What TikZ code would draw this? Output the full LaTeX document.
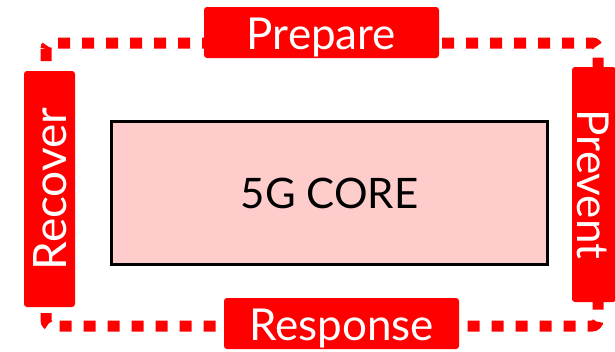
\documentclass[tikz,border=0pt]{standalone}
\usepackage{fontspec}
\setmainfont{Lato}
\usetikzlibrary{positioning}
\definecolor{PhaseRed}{HTML}{FF0000}
\definecolor{CorePink}{HTML}{FFCCCC}
\tikzset{
  phasebox/.style={fill=PhaseRed,text=white,rounded corners=3pt,inner sep=0pt,
    minimum width=235pt,minimum height=51pt,text height=33pt,text depth=0pt,
    font=\fontsize{44}{44}\selectfont},
  corebox/.style={draw=black,fill=CorePink,line width=3pt,inner sep=0pt,
    minimum width=436pt,minimum height=143pt,font=\fontsize{42}{42}\selectfont},
  cycleloop/.style={PhaseRed,line width=11pt,dash pattern=on 12pt off 12pt,
    rounded corners=6pt}
}
\begin{document}
\begin{tikzpicture}[x=1pt,y=-1pt]
  \useasboundingbox (0,0) rectangle (615,351);
  % Cycle path behind the phases
  \coordinate (loopNW) at (46,43);
  \coordinate (loopSE) at (598,326);
  \draw[cycleloop] (loopNW) rectangle (loopSE);
  % Core
  \node[corebox] (core) at (329.5,193) {5G CORE};
  % Phases
  \node[phasebox] (prepare) at (321.5,32.5) {Prepare};
  \node[phasebox,minimum height=44pt,rotate=-90] (prevent) at (594,184.5) {Prevent};
  \node[phasebox] (response) at (341.5,323.5) {Response};
  \node[phasebox,minimum width=236pt,rotate=90,
    font=\fontsize{46}{46}\selectfont] (recover) at (49.5,189) {Recover};
\end{tikzpicture}
\end{document}
